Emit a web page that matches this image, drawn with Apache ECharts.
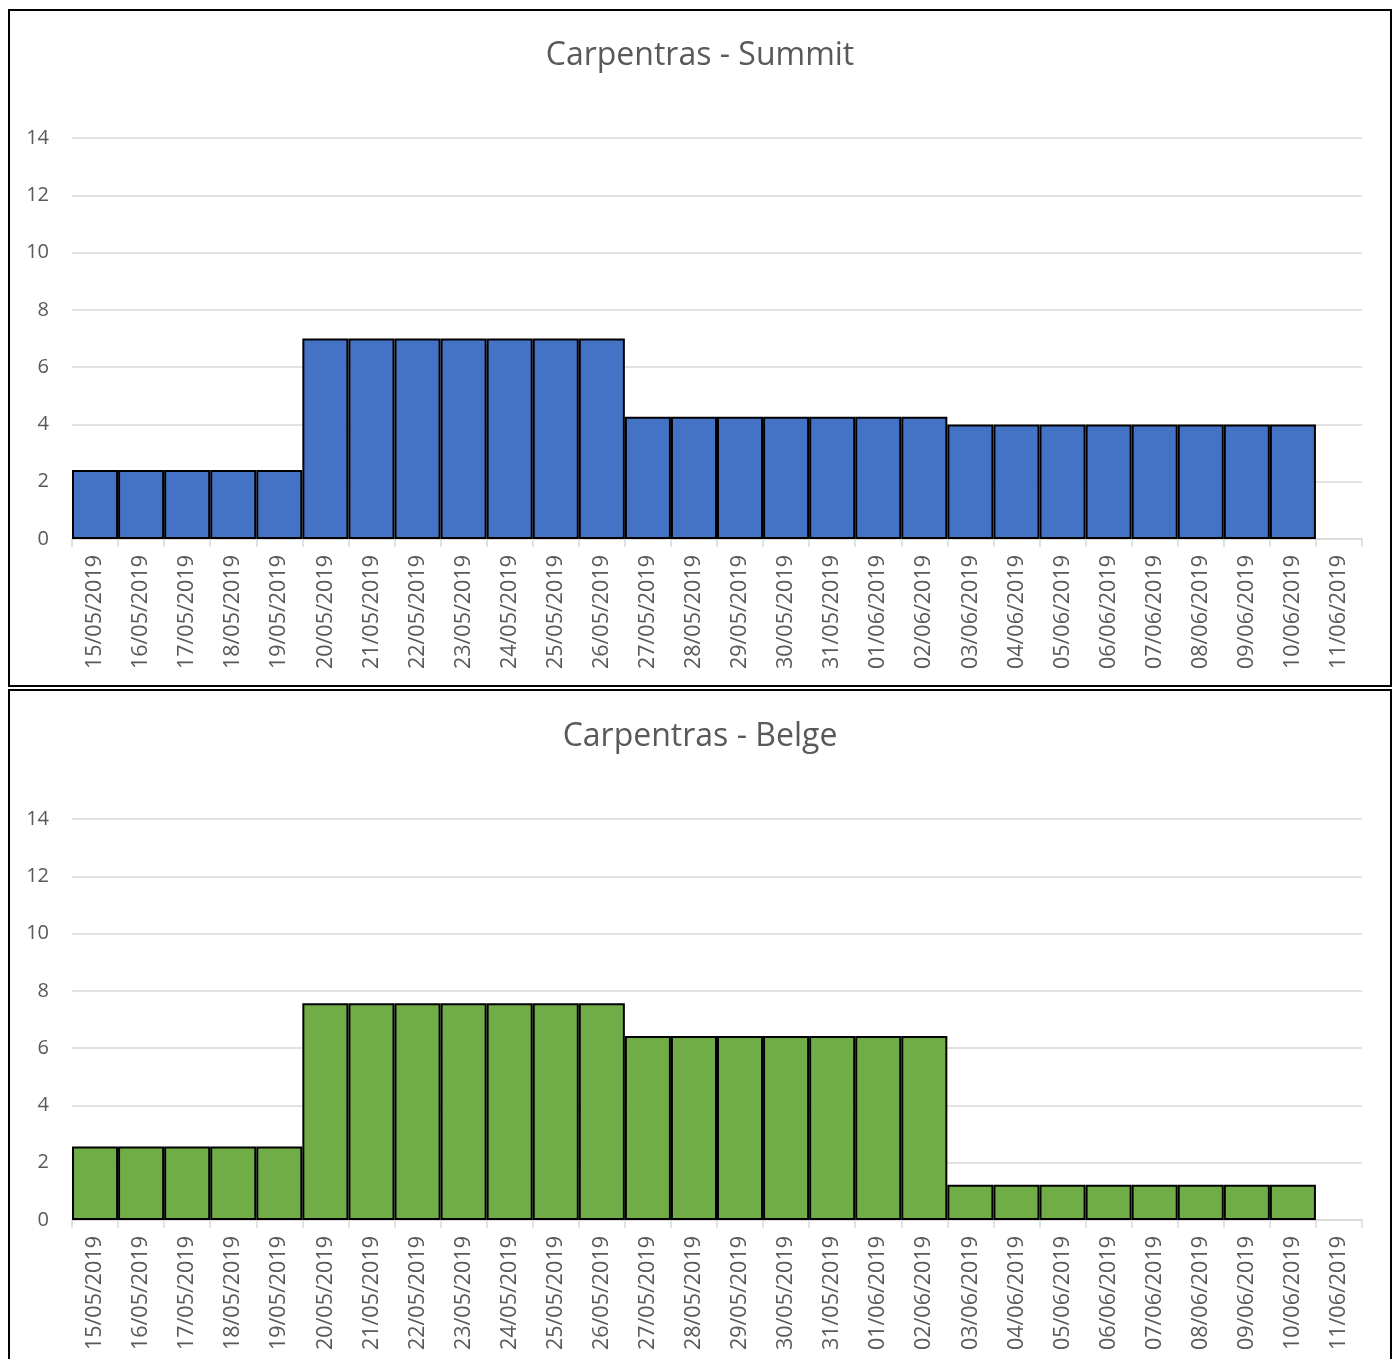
<!DOCTYPE html>
<html>
<head>
<meta charset="utf-8">
<script src="https://cdn.jsdelivr.net/npm/echarts@6/dist/echarts.min.js"></script>
<style>
  html, body { margin: 0; padding: 0; background: #fff; width: 1394px; height: 1359px; overflow: hidden; position: relative; }
  .box { position: absolute; left: 8px; width: 1380px; height: 674px; border: 2px solid #000; background: #fff; }
  #c1 { top: 9px; }
  #c2 { top: 689px; }
</style>
</head>
<body>
<div id="c1" class="box"></div>
<div id="c2" class="box"></div>
<script>
const categories = [
  "15/05/2019","16/05/2019","17/05/2019","18/05/2019","19/05/2019",
  "20/05/2019","21/05/2019","22/05/2019","23/05/2019","24/05/2019","25/05/2019","26/05/2019",
  "27/05/2019","28/05/2019","29/05/2019","30/05/2019","31/05/2019","01/06/2019","02/06/2019",
  "03/06/2019","04/06/2019","05/06/2019","06/06/2019","07/06/2019","08/06/2019","09/06/2019","10/06/2019",
  "11/06/2019"
];
const summitValues = [
  2.41, 2.41, 2.41, 2.41, 2.41,
  7, 7, 7, 7, 7, 7, 7,
  4.27, 4.27, 4.27, 4.27, 4.27, 4.27, 4.27,
  4, 4, 4, 4, 4, 4, 4, 4,
  null
];
const belgeValues = [
  2.57, 2.57, 2.57, 2.57, 2.57,
  7.57, 7.57, 7.57, 7.57, 7.57, 7.57, 7.57,
  6.42, 6.42, 6.42, 6.42, 6.42, 6.42, 6.42,
  1.23, 1.23, 1.23, 1.23, 1.23, 1.23, 1.23, 1.23,
  null
];
const yTicks = { min: 0, max: 14, interval: 2 };
const titles = ["Carpentras - Summit", "Carpentras - Belge"];

const FONT = "'Open Sans', sans-serif";
const GRAY = "#595959";

function makeOption(title, values, color, shift) {
  return {
    animation: false,
    title: {
      text: title,
      left: 'center',
      top: 24 + shift,
      textStyle: { fontFamily: FONT, fontSize: 32, fontWeight: 'normal', color: GRAY }
    },
    grid: { left: 62, right: 28, top: 127 + shift, bottom: 146 - shift, containLabel: false },
    xAxis: {
      type: 'category',
      data: categories,
      boundaryGap: true,
      axisLine: { show: true, lineStyle: { color: '#d9d9d9', width: 1.5 } },
      axisTick: { show: true, length: 8, lineStyle: { color: '#d9d9d9', width: 1.5 }, interval: 0 },
      axisLabel: { interval: 0, rotate: 90, margin: 16, fontFamily: FONT, fontSize: 21.5, color: GRAY }
    },
    yAxis: {
      type: 'value',
      min: yTicks.min, max: yTicks.max, interval: yTicks.interval,
      axisLine: { show: false },
      axisTick: { show: false },
      axisLabel: { margin: 23, fontFamily: FONT, fontSize: 20, color: GRAY },
      splitLine: { lineStyle: { color: '#d9d9d9', width: 1.5 } }
    },
    series: [{
      type: 'bar',
      data: values,
      barCategoryGap: '0%',
      itemStyle: { color: color, borderColor: '#000', borderWidth: 2 }
    }]
  };
}

const ch1 = echarts.init(document.getElementById('c1'), null, { renderer: 'canvas' });
ch1.setOption(makeOption(titles[0], summitValues, '#4472C4', 0));
const ch2 = echarts.init(document.getElementById('c2'), null, { renderer: 'canvas' });
ch2.setOption(makeOption(titles[1], belgeValues, '#70AD47', 1));
</script>
</body>
</html>
